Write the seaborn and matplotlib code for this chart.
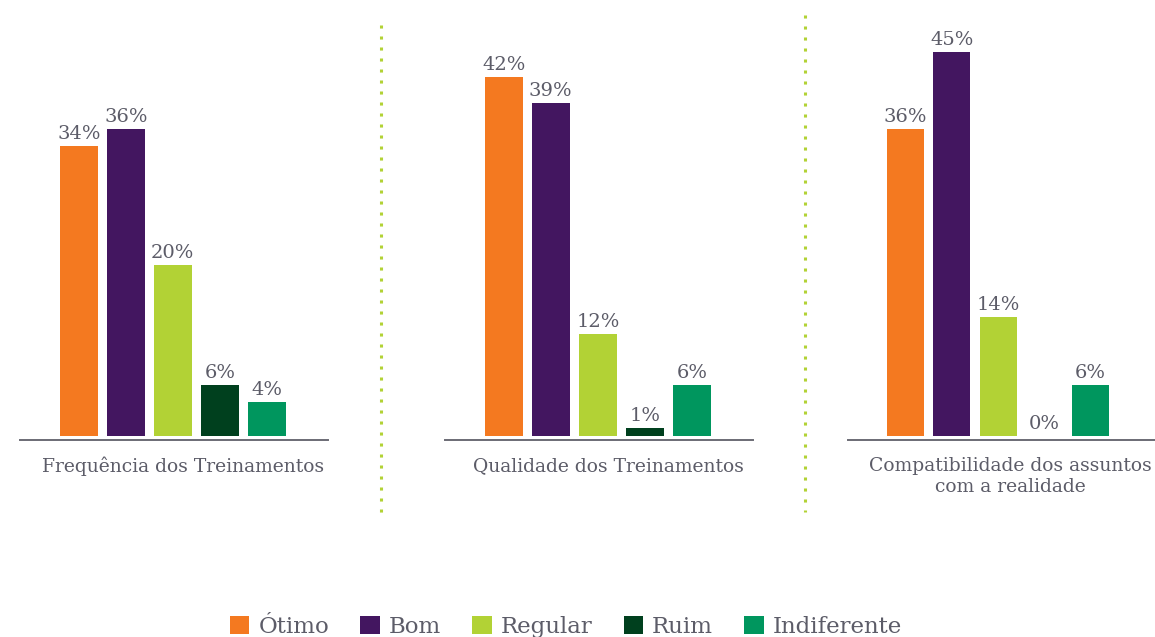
import matplotlib
matplotlib.use("Agg")
import matplotlib.pyplot as plt
from matplotlib.lines import Line2D
from matplotlib.patches import Patch
import pandas as pd
import seaborn as sns

# Data
categorias = ["Ótimo", "Bom", "Regular", "Ruim", "Indiferente"]
frequencia = [34, 36, 20, 6, 4]
qualidade = [42, 39, 12, 1, 6]
compatibilidade = [36, 45, 14, 0, 6]
paineis = ["Frequência dos Treinamentos",
           "Qualidade dos Treinamentos",
           "Compatibilidade dos assuntos\ncom a realidade"]
cores = ["#F47920", "#431660", "#B2D235", "#00401E", "#00965E"]

paleta = dict(zip(categorias, cores))
texto_cor = "#5c5c68"

sns.set_theme(style="white")
plt.rcParams["font.family"] = ["DejaVu Serif"]

fig = plt.figure(figsize=(11.55, 6.37), dpi=100)
W, H = 1155, 637

# axes pixel extents (left, right, xlim right), baseline / top in pixels
extents = [(20, 328, 5.3), (445, 753, 5.3), (848, 1155, 5.4)]
top_px, base_px = 20, 440

for (x0, x1, xr), valores, titulo in zip(extents, [frequencia, qualidade, compatibilidade], paineis):
    ax = fig.add_axes([x0 / W, (H - base_px) / H, (x1 - x0) / W, (base_px - top_px) / H])
    df = pd.DataFrame({"categoria": categorias, "valor": valores})
    sns.barplot(data=df, x="categoria", y="valor", hue="categoria", palette=paleta,
                order=categorias, hue_order=categorias, width=0.8, legend=False,
                saturation=1, linewidth=0, ax=ax)
    for i, v in enumerate(valores):
        ax.annotate(f"{v}%", (i, v), xytext=(0, 2), textcoords="offset points",
                    ha="center", va="bottom", fontsize=14, color=texto_cor)
    ax.set_xlim(-1.25, xr)
    ax.set_ylim(-0.45, 48.7)
    ax.set_xticks([])
    ax.set_yticks([])
    ax.set_xlabel("")
    ax.set_ylabel("")
    for s in ["top", "right", "left"]:
        ax.spines[s].set_visible(False)
    ax.spines["bottom"].set_color("#6b6b75")
    ax.spines["bottom"].set_linewidth(1.4)
    ax.text(0.53, -0.04, titulo, transform=ax.transAxes, ha="center", va="top",
            fontsize=13.5, color=texto_cor, linespacing=1.25)

# dotted separators
for x, y0, y1 in [(381, 25, 520), (805, 15, 512)]:
    fig.add_artist(Line2D([x / W, x / W], [(H - y0) / H, (H - y1) / H],
                          transform=fig.transFigure, color="#B2D235",
                          linestyle=(0, (1, 2.6)), linewidth=2.2))

handles = [Patch(facecolor=c, edgecolor="none") for c in cores]
fig.legend(handles, categorias, loc="center", bbox_to_anchor=(566 / W, (H - 627) / H),
           ncol=5, frameon=False, fontsize=16.5, handlelength=0.85, handleheight=0.85,
           handletextpad=0.4, columnspacing=1.35, labelcolor=texto_cor)

fig.savefig("out.png", dpi=100)
